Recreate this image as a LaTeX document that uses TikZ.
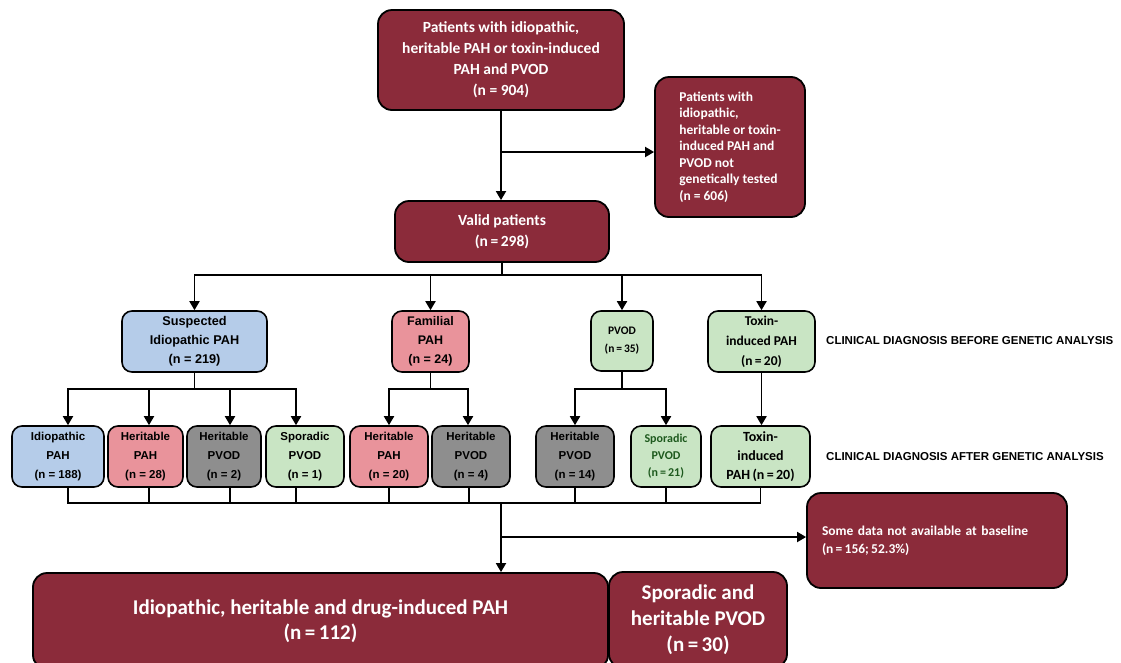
\documentclass[tikz,border=0pt]{standalone}
\usepackage{fontspec}
\setmainfont{Carlito}
\newfontfamily\arialfont{Liberation Sans}
\usepackage{tikz}
\usetikzlibrary{arrows.meta,positioning,calc}
\definecolor{boxred}{RGB}{139,43,58}
\definecolor{paleblue}{RGB}{181,204,233}
\definecolor{palepink}{RGB}{233,147,155}
\definecolor{midgrey}{RGB}{142,142,142}
\definecolor{palegreen}{RGB}{201,229,196}
\definecolor{leafgreen}{RGB}{30,90,30}
\frenchspacing
\tikzset{
  mbox/.style={draw=black,line width=1.8pt,fill=boxred,rounded corners=14pt,text=white,align=center,inner sep=0pt,font=\bfseries\fontsize{15.5}{21}\selectfont},
  gbox/.style={draw=black,line width=1.6pt,rounded corners=10pt,align=center,inner sep=0pt,minimum height=61pt,font=\arialfont\bfseries\fontsize{11.5}{19}\selectfont},
  cbox/.style={gbox,fill=palegreen,font=\bfseries\fontsize{13.5}{20}\selectfont},
  stage/.style={anchor=west,inner sep=0pt,font=\arialfont\bfseries\fontsize{11.5}{14}\selectfont},
  arr/.style={line width=1.8pt,-{Triangle[length=9pt,width=10pt]}},
  bus/.style={line width=1.6pt}
}

\begin{document}
\begin{tikzpicture}[x=1pt,y=-1pt]
\useasboundingbox[fill=white] (0,0) rectangle (1121,662);

% screening
\node[mbox,minimum width=246pt,minimum height=100pt] (all) at (501,60) {Patients with idiopathic,\\heritable PAH or toxin-induced\\PAH and PVOD\\(n = 904)};
\node[mbox,minimum width=150pt,minimum height=140pt,align=left,font=\bfseries\fontsize{13.5}{16.5}\selectfont] (untested) at (730,147) {Patients with\\idiopathic,\\heritable or toxin-\\induced PAH and\\PVOD not\\genetically tested\\(n = 606)};
\node[mbox,minimum width=214pt,minimum height=61pt] (valid) at (502,231.5) {Valid patients\\(n\,=\,298)};

% before genetic analysis
\node[gbox,fill=paleblue,minimum width=145pt,font=\arialfont\bfseries\fontsize{12.7}{19}\selectfont] (suspect) at (194.5,341.5) {Suspected\\Idiopathic PAH\\(n = 219)};
\node[gbox,fill=palepink,minimum width=77pt,font=\arialfont\bfseries\fontsize{12.5}{19}\selectfont] (familial) at (430.5,341.5) {Familial\\PAH\\(n = 24)};
\node[cbox,minimum width=62pt,minimum height=60pt,font=\bfseries\fontsize{11.5}{18}\selectfont] (pvod) at (622,341) {PVOD\\(n\,=\,35)};
\node[cbox,minimum width=107pt] (toxin) at (761.5,341.5) {Toxin-\\induced PAH\\(n\,=\,20)};
\node[stage] (before) at (826,341) {CLINICAL DIAGNOSIS BEFORE GENETIC ANALYSIS};

% after genetic analysis
\node[gbox,fill=paleblue,minimum width=92pt] (idio) at (58,456.5) {Idiopathic\\PAH\\(n = 188)};
\node[gbox,fill=palepink,minimum width=75pt] (herpahA) at (145.5,456.5) {Heritable\\PAH\\(n = 28)};
\node[gbox,fill=midgrey,minimum width=74pt] (herpvodA) at (224,456.5) {Heritable\\PVOD\\(n = 2)};
\node[gbox,fill=palegreen,minimum width=78pt] (sporA) at (305,456.5) {Sporadic\\PVOD\\(n = 1)};
\node[gbox,fill=palepink,minimum width=78pt] (herpahB) at (389,456.5) {Heritable\\PAH\\(n = 20)};
\node[gbox,fill=midgrey,minimum width=78pt] (herpvodB) at (471,456.5) {Heritable\\PVOD\\(n = 4)};
\node[gbox,fill=midgrey,minimum width=78pt] (herpvodC) at (575,456.5) {Heritable\\PVOD\\(n = 14)};
\node[cbox,minimum width=70pt,text=leafgreen,font=\bfseries\fontsize{12}{17}\selectfont] (sporB) at (666,456.5) {Sporadic\\PVOD\\(n\,=\,21)};
\node[cbox,minimum width=99pt,font=\bfseries\fontsize{14}{19}\selectfont] (toxinB) at (760.5,456.5) {Toxin-\\induced\\PAH\,(n\,=\,20)};
\node[stage] (after) at (826,457) {CLINICAL DIAGNOSIS AFTER GENETIC ANALYSIS};

% outcome
\node[mbox,minimum width=260pt,minimum height=95pt,text width=230pt,align=left,font=\bfseries\fontsize{13.5}{18}\selectfont] (missing) at (937,540.5) {Some data not available at baseline\\(n\,=\,156;\,52.3\%)};
\node[mbox,minimum width=575pt,minimum height=96pt,font=\bfseries\fontsize{21}{25}\selectfont] (pah) at (320.5,621) {Idiopathic, heritable and drug-induced PAH\\(n\,=\,112)};
\node[mbox,minimum width=178pt,minimum height=96pt,font=\bfseries\fontsize{21}{26}\selectfont] (pvodall) at (698,620) {Sporadic and\\heritable PVOD\\(n\,=\,30)};

\coordinate (j1) at (501,152);
\coordinate (b1) at (501,275);
\coordinate (b2) at (194.5,389);
\coordinate (b3) at (430.5,389);
\coordinate (b4) at (622,389);
\coordinate (b5) at (501,503);
\coordinate (j2) at (501,537);

\draw[arr] (all.south) -- (all.south |- valid.north);
\draw[arr] (j1) -- (j1 -| untested.west);

\draw[bus] (valid.south) -- (valid.south |- b1);
\draw[arr] (b1) -| (suspect);
\draw[arr] (b1) -| (familial);
\draw[arr] (b1) -| (pvod);
\draw[arr] (b1) -| (toxin);

\draw[bus] (suspect) -- (b2);
\draw[arr] (b2) -| ([xshift=10pt]idio.north);
\draw[arr] (b2) -| ([xshift=3.5pt]herpahA.north);
\draw[arr] (b2) -| ([xshift=6pt]herpvodA.north);
\draw[arr] (b2) -| ([xshift=-9pt]sporA.north);
\draw[bus] (familial) -- (b3);
\draw[arr] (b3) -| (herpahB);
\draw[arr] (b3) -| ([xshift=-3pt]herpvodB.north);
\draw[bus] (pvod) -- (b4);
\draw[arr] (b4) -| (herpvodC);
\draw[arr] (b4) -| (sporB);
\draw[arr] (toxin.south) -- (toxin.south |- toxinB.north);

\draw[bus] ([xshift=10pt]idio.south) |- (b5) -| (toxinB.south);
\draw[bus] ([xshift=3.5pt]herpahA.south) -- ([xshift=3.5pt]herpahA.south |- b5);
\draw[bus] ([xshift=6pt]herpvodA.south) -- ([xshift=6pt]herpvodA.south |- b5);
\draw[bus] ([xshift=-9pt]sporA.south) -- ([xshift=-9pt]sporA.south |- b5);
\draw[bus] (herpahB.south) -- (herpahB.south |- b5);
\draw[bus] ([xshift=-2pt]herpvodB.south) -- ([xshift=-2pt]herpvodB.south |- b5);
\draw[bus] (herpvodC.south) -- (herpvodC.south |- b5);
\draw[bus] (sporB.south) -- (sporB.south |- b5);
\draw[arr] (b5) -- (b5 |- pah.north);
\draw[arr] (j2) -- (j2 -| missing.west);
\end{tikzpicture}
\end{document}
